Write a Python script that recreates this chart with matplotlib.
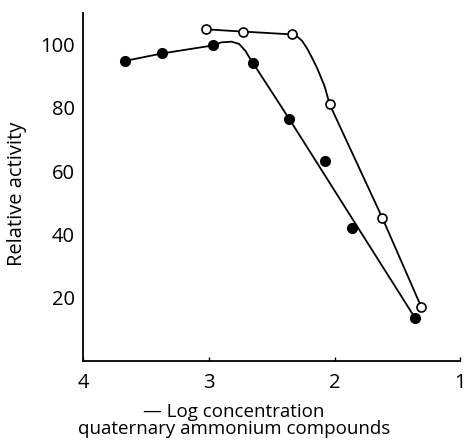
import matplotlib
matplotlib.use("Agg")
import matplotlib.pyplot as plt

plt.rcParams['font.family'] = ['Open Sans', 'DejaVu Sans']

# measured points (filled and open circles)
x_filled = [3.67, 3.37, 2.97, 2.65, 2.36, 2.08, 1.86, 1.36]
y_filled = [94.8, 97.2, 99.7, 94.2, 76.4, 63.1, 42.0, 13.5]
x_open = [3.02, 2.73, 2.34, 2.04, 1.62, 1.31]
y_open = [104.8, 104.1, 103.2, 81.1, 45.1, 16.9]

# hand-drawn curves through the points (vertices)
curve_filled_x = [3.67, 3.37, 2.97, 2.90, 2.82, 2.76, 2.71, 2.67, 2.65, 2.36, 1.36]
curve_filled_y = [94.8, 97.2, 99.7, 100.7, 100.9, 100.2, 98.0, 95.4, 94.2, 76.4, 13.5]
curve_open_x = [3.02, 2.73, 2.34, 2.30, 2.26, 2.22, 2.18, 2.14, 2.08, 2.04, 1.62, 1.31]
curve_open_y = [104.8, 104.1, 103.2, 102.6, 101.2, 98.8, 95.8, 92.6, 86.8, 81.1, 45.1, 16.9]

xticks = [4, 3, 2, 1]
yticks = [20, 40, 60, 80, 100]

fig = plt.figure(figsize=(4.67, 4.45), dpi=100)
ax = fig.add_axes([0.178, 0.189, 0.808, 0.782])

ax.plot(curve_filled_x, curve_filled_y, color="black", lw=1.3, zorder=2)
ax.plot(curve_open_x, curve_open_y, color="black", lw=1.3, zorder=2)
ax.plot(x_filled, y_filled, "o", color="black", ms=7, zorder=3)
ax.plot(x_open, y_open, "o", mfc="white", mec="black", mew=1.2, ms=6.5, zorder=3)

ax.set_xlim(4, 1)
ax.set_ylim(0, 110)
ax.set_xticks(xticks)
ax.set_xticklabels([str(t) for t in xticks])
ax.set_yticks(yticks)
ax.spines["top"].set_visible(False)
ax.spines["right"].set_visible(False)
for s in ("left", "bottom"):
    ax.spines[s].set_linewidth(1.3)
ax.tick_params(axis="x", direction="in", length=3, width=1, pad=9, labelsize=14.5)
ax.tick_params(axis="y", length=0, pad=6, labelsize=14.5)

ax.set_ylabel("Relative activity", fontsize=14.5)
ax.yaxis.set_label_coords(-0.148, 0.48)
ax.set_xlabel("\u2014 Log concentration\nquaternary ammonium compounds",
              fontsize=13.5, linespacing=0.95)
ax.xaxis.set_label_coords(0.40, -0.12)
ax.xaxis.label.set_verticalalignment("top")

fig.savefig("out.png", dpi=100)
